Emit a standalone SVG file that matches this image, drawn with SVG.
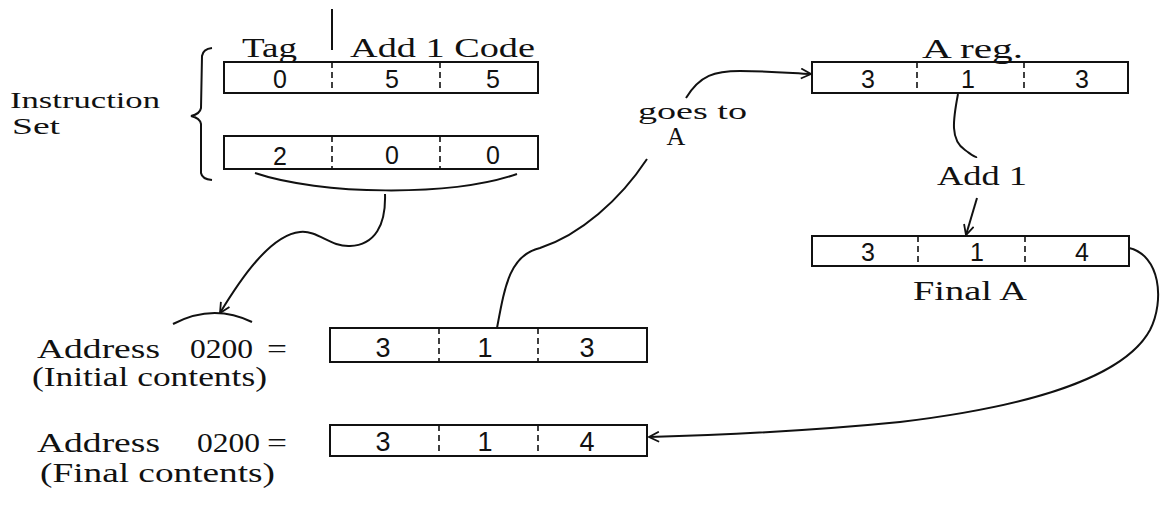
<svg xmlns="http://www.w3.org/2000/svg" width="1160" height="512" viewBox="0 0 1160 512">
<style>
.box{fill:none;stroke:#111;stroke-width:2}
.div{stroke:#111;stroke-width:1.6;stroke-dasharray:6 4}
.wire{fill:none;stroke:#111;stroke-width:2}
.t{font-family:"Liberation Serif",serif;font-size:27px;fill:#111}
.s{font-family:"Liberation Serif",serif;font-size:24px;fill:#111}
.a{font-family:"Liberation Serif",serif;font-size:26px;fill:#111;text-anchor:middle}
.d{font-family:"Liberation Sans",sans-serif;font-size:25px;fill:#111;text-anchor:middle}
.D{font-family:"Liberation Sans",sans-serif;font-size:27px;fill:#111;text-anchor:middle}
</style>
<defs>
<marker id="ah" viewBox="0 0 12 12" refX="11" refY="6" markerWidth="12" markerHeight="12" markerUnits="userSpaceOnUse" orient="auto">
<path d="M1,1 L11,6 L1,11" fill="none" stroke="#111" stroke-width="1.8"/>
</marker>
</defs>
<rect width="1160" height="512" fill="#fff"/>

<g id="instr-labels">
<line x1="332" y1="9" x2="332" y2="50" class="wire"/>
<text class="t" x="242" y="57" textLength="55" lengthAdjust="spacingAndGlyphs">Tag</text>
<text class="t" x="350" y="57" textLength="185" lengthAdjust="spacingAndGlyphs">Add 1 Code</text>
</g>

<g id="instruction-set">
<text class="s" x="10" y="108" textLength="150" lengthAdjust="spacingAndGlyphs">Instruction</text>
<text class="s" x="12" y="134" textLength="48" lengthAdjust="spacingAndGlyphs">Set</text>
<path class="wire" d="M212,48 Q203,49 202,56 L201,108 Q200,114 191,116 Q200,118 201,124 L201,173 Q202,179 212,180"/>
</g>

<g id="instr1">
<rect class="box" x="224" y="62" width="314" height="31"/>
<line class="div" x1="332" y1="62" x2="332" y2="93"/>
<line class="div" x1="440" y1="62" x2="440" y2="93"/>
<text class="d" x="280" y="88">0</text>
<text class="d" x="392" y="88">5</text>
<text class="d" x="493" y="88">5</text>
</g>

<g id="instr2">
<rect class="box" x="224" y="136" width="314" height="33"/>
<line class="div" x1="332" y1="136" x2="332" y2="169"/>
<line class="div" x1="440" y1="136" x2="440" y2="169"/>
<text class="d" x="280" y="165">2</text>
<text class="d" x="392" y="164">0</text>
<text class="d" x="493" y="164">0</text>
</g>

<g id="areg">
<text class="t" x="922" y="58" textLength="101" lengthAdjust="spacingAndGlyphs">A reg.</text>
<rect class="box" x="812" y="62" width="316" height="31"/>
<line class="div" x1="917" y1="62" x2="917" y2="93"/>
<line class="div" x1="1024" y1="62" x2="1024" y2="93"/>
<text class="d" x="868" y="88">3</text>
<text class="d" x="968" y="88">1</text>
<text class="d" x="1082" y="88">3</text>
</g>

<g id="final-a">
<rect class="box" x="812" y="236" width="317" height="30"/>
<line class="div" x1="918" y1="236" x2="918" y2="266"/>
<line class="div" x1="1025" y1="236" x2="1025" y2="266"/>
<text class="d" x="868" y="261">3</text>
<text class="d" x="977" y="261">1</text>
<text class="d" x="1082" y="261">4</text>
<text class="t" x="913" y="300" textLength="114" lengthAdjust="spacingAndGlyphs">Final A</text>
</g>

<g id="addr-initial">
<text class="t" x="37" y="358" textLength="123" lengthAdjust="spacingAndGlyphs">Address</text>
<text class="t" x="190" y="358" textLength="63" lengthAdjust="spacingAndGlyphs">0200</text>
<text class="t" x="267" y="358" textLength="20" lengthAdjust="spacingAndGlyphs">=</text>
<text class="t" x="32" y="386" textLength="235" lengthAdjust="spacingAndGlyphs">(Initial contents)</text>
<rect class="box" x="330" y="328" width="317" height="34"/>
<line class="div" x1="439" y1="328" x2="439" y2="362"/>
<line class="div" x1="538" y1="328" x2="538" y2="362"/>
<text class="D" x="383" y="357">3</text>
<text class="D" x="485" y="357">1</text>
<text class="D" x="587" y="357">3</text>
</g>

<g id="addr-final">
<text class="t" x="37" y="452" textLength="123" lengthAdjust="spacingAndGlyphs">Address</text>
<text class="t" x="197" y="452" textLength="63" lengthAdjust="spacingAndGlyphs">0200</text>
<text class="t" x="267" y="452" textLength="20" lengthAdjust="spacingAndGlyphs">=</text>
<text class="t" x="40" y="482" textLength="235" lengthAdjust="spacingAndGlyphs">(Final contents)</text>
<rect class="box" x="330" y="425" width="317" height="31"/>
<line class="div" x1="439" y1="425" x2="439" y2="456"/>
<line class="div" x1="538" y1="425" x2="538" y2="456"/>
<text class="D" x="383" y="451">3</text>
<text class="D" x="485" y="451">1</text>
<text class="D" x="587" y="451">4</text>
</g>

<g id="connectors">
<path class="wire" d="M255,173 C320,195 450,197 517,174"/>
<path class="wire" marker-end="url(#ah)" d="M385,194 C386,225 375,245 350,246 C330,247 318,230 300,232 C270,235 240,280 220,313"/>
<path class="wire" d="M173,324 Q213,303 252,322"/>
<path class="wire" d="M497,328 C505,285 510,255 540,248 C580,235 620,200 647,159"/>
<path class="wire" marker-end="url(#ah)" d="M686,98 C700,75 715,71 740,71 C770,71 790,73 811,74"/>
<path class="wire" d="M958,94 C953,120 950,140 965,150 C972,155 975,158 977,157"/>
<path class="wire" marker-end="url(#ah)" d="M977,198 L966,235"/>
<path class="wire" marker-end="url(#ah)" d="M1129,248 C1160,255 1165,300 1150,330 C1120,385 1000,410 900,422 C800,432 720,435 649,437"/>
</g>

<g id="labels">
<text class="s" x="638" y="119" textLength="109" lengthAdjust="spacingAndGlyphs">goes to</text>
<text class="a" x="676" y="145">A</text>
<text class="t" x="937" y="185" textLength="90" lengthAdjust="spacingAndGlyphs">Add 1</text>
</g>
</svg>
